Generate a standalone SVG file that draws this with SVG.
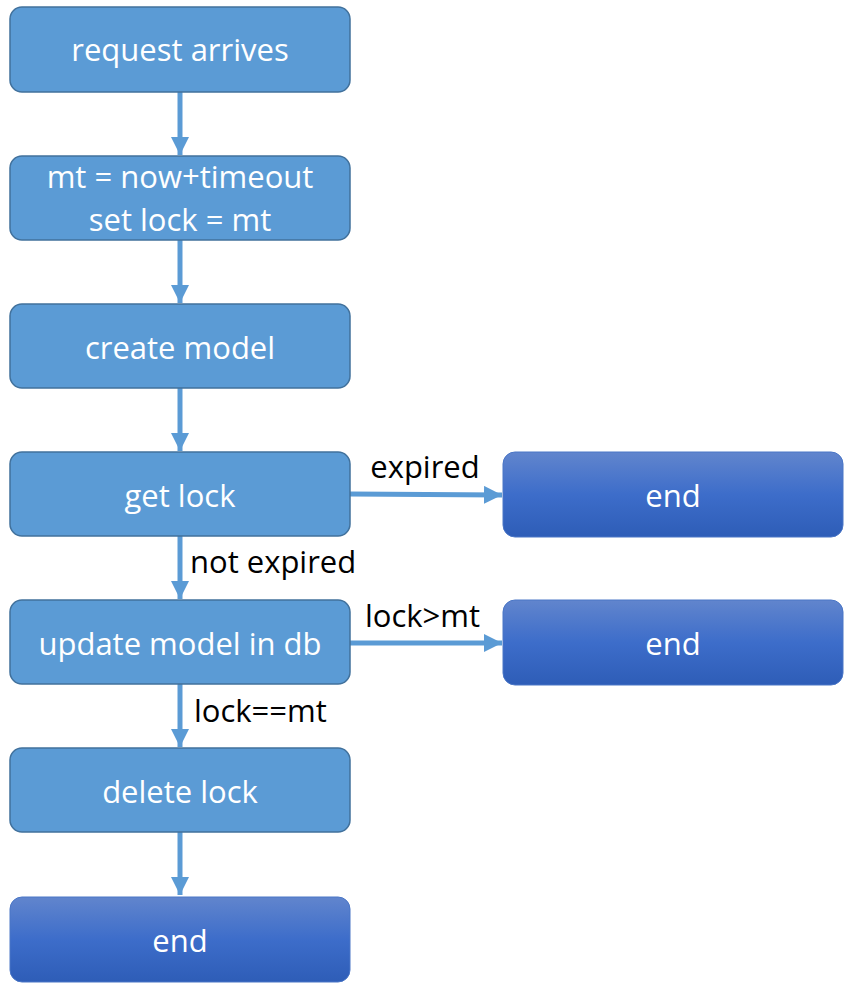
<svg xmlns="http://www.w3.org/2000/svg" width="850" height="990" viewBox="0 0 850 990">
<defs>
<linearGradient id="endg" x1="0" y1="0" x2="0" y2="1">
<stop offset="0" stop-color="#6185CD"/>
<stop offset="0.5" stop-color="#3D6DCA"/>
<stop offset="1" stop-color="#2E5DB7"/>
</linearGradient>
<marker id="ah" markerWidth="18" markerHeight="18" refX="18" refY="9" orient="auto" markerUnits="userSpaceOnUse">
<path d="M0,0 L18,9 L0,18 Z" fill="#5B9BD5"/>
</marker>
</defs>
<style>
.box{fill:#5B9BD5;stroke:#41719C;stroke-width:1.5}
.end{fill:url(#endg);stroke:#4A76C6;stroke-width:1}
.t{font-family:"Open Sans","Liberation Sans",sans-serif;font-size:31px;fill:#FFFFFF;text-anchor:middle}
.l{font-family:"Open Sans","Liberation Sans",sans-serif;font-size:31px;fill:#000000}
.c{stroke:#5B9BD5;stroke-width:5;fill:none;marker-end:url(#ah)}
</style>
<rect width="850" height="990" fill="#FFFFFF"/>
<g id="connectors">
<line class="c" x1="180" y1="92" x2="180" y2="155"/>
<line class="c" x1="180" y1="240" x2="180" y2="303"/>
<line class="c" x1="180" y1="388" x2="180" y2="451"/>
<line class="c" x1="180" y1="536" x2="180" y2="599"/>
<line class="c" x1="180" y1="684" x2="180" y2="747"/>
<line class="c" x1="180" y1="832" x2="180" y2="895"/>
<line class="c" x1="350" y1="494" x2="502" y2="495"/>
<line class="c" x1="350" y1="643" x2="502" y2="643"/>
<text class="l" x="425" y="478" text-anchor="middle">expired</text>
<text class="l" x="190" y="573">not expired</text>
<text class="l" x="365" y="627">lock&gt;mt</text>
<text class="l" x="194" y="722">lock==mt</text>
</g>
<g id="n1"><rect class="box" x="10" y="7" width="340" height="85" rx="12"/><text class="t" x="180" y="61">request arrives</text></g>
<g id="n2"><rect class="box" x="10" y="156" width="340" height="84" rx="12"/><text class="t" x="180" y="188">mt = now+timeout</text><text class="t" x="180" y="231">set lock = mt</text></g>
<g id="n3"><rect class="box" x="10" y="304" width="340" height="84" rx="12"/><text class="t" x="180" y="359">create model</text></g>
<g id="n4"><rect class="box" x="10" y="452" width="340" height="84" rx="12"/><text class="t" x="180" y="507">get lock</text></g>
<g id="n5"><rect class="box" x="10" y="600" width="340" height="84" rx="12"/><text class="t" x="180" y="655">update model in db</text></g>
<g id="n6"><rect class="box" x="10" y="748" width="340" height="84" rx="12"/><text class="t" x="180" y="803">delete lock</text></g>
<g id="end1"><rect class="end" x="503" y="452" width="340" height="85" rx="12"/><text class="t" x="673" y="507">end</text></g>
<g id="end2"><rect class="end" x="503" y="600" width="340" height="85" rx="12"/><text class="t" x="673" y="655">end</text></g>
<g id="end3"><rect class="end" x="10" y="897" width="340" height="85" rx="12"/><text class="t" x="180" y="952">end</text></g>
</svg>
